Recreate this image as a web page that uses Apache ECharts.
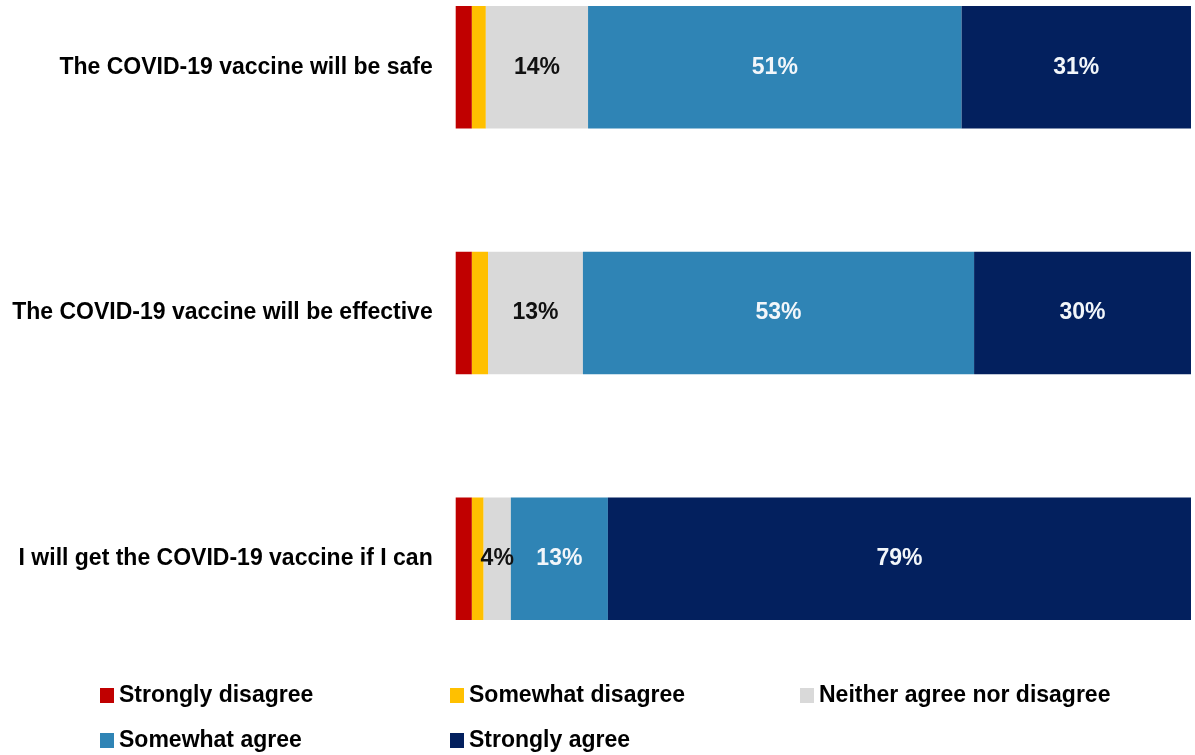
<!DOCTYPE html>
<html>
<head>
<meta charset="utf-8">
<script src="https://cdn.jsdelivr.net/npm/echarts@6/dist/echarts.min.js"></script>
<style>html,body{margin:0;padding:0;background:#fff;}#c{width:1195px;height:755px;}</style>
</head>
<body>
<div id="c"></div>
<script>
const categories = ['The COVID-19 vaccine will be safe', 'The COVID-19 vaccine will be effective', 'I will get the COVID-19 vaccine if I can'];
const seriesNames = ['Strongly disagree', 'Somewhat disagree', 'Neither agree nor disagree', 'Somewhat agree', 'Strongly agree'];
const stronglyDisagree = [2.2, 2.2, 2.2];
const somewhatDisagree = [1.9, 2.2, 1.6];
const neither = [13.9, 12.9, 3.7];
const somewhatAgree = [50.8, 53.2, 13.2];
const stronglyAgree = [31.2, 29.5, 79.3];
const colors = ['#C00000', '#FFC000', '#D9D9D9', '#2F84B5', '#03205E'];
const labelColors = [null, null, '#111111', '#F2F6FA', '#F2F6FA'];
const allData = [stronglyDisagree, somewhatDisagree, neither, somewhatAgree, stronglyAgree];

const FONT = '"Liberation Sans", Arial, sans-serif';

const series = seriesNames.map((name, i) => ({
  name: name,
  type: 'bar',
  stack: 'total',
  barWidth: 122.5,
  clip: false,
  itemStyle: { color: colors[i] },
  label: {
    show: labelColors[i] !== null,
    position: 'inside',
    color: labelColors[i] || '#000',
    fontFamily: FONT,
    fontWeight: 'bold',
    fontSize: 23,
    formatter: p => Math.round(p.value) + '%'
  },
  emphasis: { disabled: true },
  data: allData[i]
}));

const legendPos = [[100, 684], [450, 684], [800, 684], [100, 729], [450, 729]];
const legends = seriesNames.map((name, i) => ({
  data: [name],
  left: legendPos[i][0],
  top: legendPos[i][1],
  orient: 'horizontal',
  icon: 'rect',
  itemWidth: 14,
  itemHeight: 15,
  itemGap: 0,
  padding: 0,
  selectedMode: false,
  textStyle: { fontFamily: FONT, fontWeight: 'bold', fontSize: 23, color: '#000', padding: [0, 0, 0, 0] }
}));

const chart = echarts.init(document.getElementById('c'));
chart.setOption({
  animation: false,
  backgroundColor: '#ffffff',
  legend: legends,
  grid: { left: 455.7, right: 4, top: 67.3, bottom: 196.3, containLabel: false },
  xAxis: { type: 'value', min: 0, max: 100, show: false },
  yAxis: {
    type: 'category',
    data: categories,
    inverse: true,
    boundaryGap: false,
    axisLine: { show: false },
    axisTick: { show: false },
    splitLine: { show: false },
    axisLabel: { margin: 23, fontFamily: FONT, fontWeight: 'bold', fontSize: 23, color: '#000' }
  },
  series: series
});
</script>
</body>
</html>
